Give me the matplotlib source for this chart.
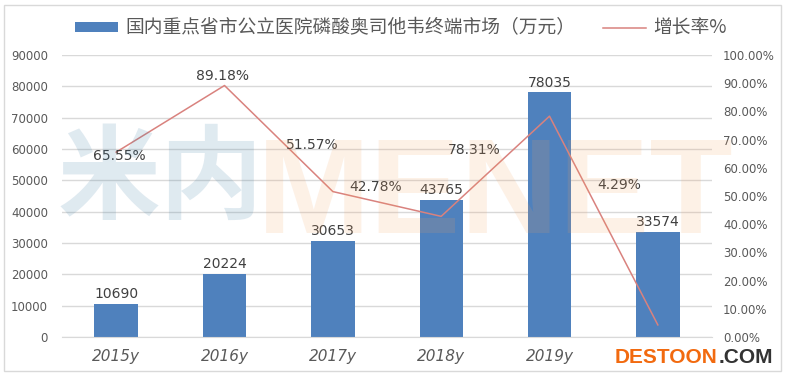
import matplotlib
matplotlib.use('Agg')
import matplotlib.pyplot as plt
from matplotlib.patches import Rectangle
import numpy as np

# ---------------- data ----------------
categories = ['2015y', '2016y', '2017y', '2018y', '2019y', '2020y']
market = [10690, 20224, 30653, 43765, 78035, 33574]
growth = [65.55, 89.18, 51.57, 42.78, 78.31, 4.29]
left_ticks = [0, 10000, 20000, 30000, 40000, 50000, 60000, 70000, 80000, 90000]
right_ticks = [0, 10, 20, 30, 40, 50, 60, 70, 80, 90, 100]
bar_name = '国内重点省市公立医院磷酸奥司他韦终端市场（万元）'
line_name = '增长率%'

# ---------------- layout (pixels) ----------------
W, H = 786, 378
growth_label_offsets_px = [(3, -3.5), (-2, 10), (-21, 47), (-66, 29), (-75, -34), (-39, 140)]
CJK = ['Noto Sans CJK SC', 'DejaVu Sans']
GRAY = '#595959'
LABEL = '#404040'

fig = plt.figure(figsize=(W / 100, H / 100), dpi=100)
fig.patch.set_facecolor('white')
ax = fig.add_axes([62 / W, 1 - 337 / H, 650 / W, 282 / H])

x = np.arange(len(categories))
bars = ax.bar(x, market, width=0.4, color='#4f81bd', zorder=2)
ax.set_xlim(-0.5, len(categories) - 0.5)
ax.set_ylim(0, 90000)
ax.set_yticks(left_ticks)
ax.set_yticklabels([str(t) for t in left_ticks])
ax.grid(axis='y', color='#d9d9d9', lw=1, zorder=0)
ax.set_axisbelow(True)
for s in ['top', 'right', 'left']:
    ax.spines[s].set_visible(False)
ax.spines['bottom'].set_color('#d9d9d9')
ax.tick_params(axis='both', length=0)
ax.tick_params(axis='y', labelsize=8.5, labelcolor=GRAY, pad=10)
ax.set_xticks(x)
ax.set_xticklabels(categories, fontstyle='italic', fontsize=11, color=GRAY)
ax.tick_params(axis='x', pad=9)
ax.bar_label(bars, labels=[str(v) for v in market], padding=2, fontsize=10, color=LABEL)

ax2 = ax.twinx()
ax2.set_ylim(0, 1.0)
line, = ax2.plot(x, np.array(growth) / 100, color='#d9827e', lw=1.1, zorder=3)
ax2.set_yticks(np.array(right_ticks) / 100)
ax2.set_yticklabels([f'{t:.2f}%' for t in right_ticks])
for s in ['top', 'right', 'left', 'bottom']:
    ax2.spines[s].set_visible(False)
ax2.tick_params(axis='y', length=0, labelsize=8.5, labelcolor=GRAY, pad=8)
for xi, g, (dx, dy) in zip(x, growth, growth_label_offsets_px):
    ax2.annotate(f'{g:.2f}%', (xi, g / 100), xytext=(dx * 0.72, dy * 0.72),
                 textcoords='offset points', ha='center', va='center',
                 fontsize=10, color=LABEL)

fig.legend(handles=[bars, line], labels=[bar_name, line_name],
           loc='center left', bbox_to_anchor=(75 / W, 1 - 28 / H), ncol=2,
           frameon=False, prop={'family': CJK, 'size': 13.5}, labelcolor=GRAY,
           handlelength=2.3, handleheight=0.5, handletextpad=0.4,
           columnspacing=1.45, borderpad=0, borderaxespad=0)

# outer chart border
fig.add_artist(Rectangle((4 / W, 7 / H), 777 / W, 366 / H, transform=fig.transFigure,
                         fill=False, ec='#d9d9d9', lw=1))

# watermarks
fig.text(58 / W, 1 - 181 / H, '米内', fontsize=74, fontweight='heavy',
         family='Noto Sans CJK SC', color='#3d7ea6', alpha=0.16, va='center', ha='left')
fig.text(257 / W, 1 - 233 / H, 'MENET', fontsize=98, fontweight='bold',
         family='Liberation Sans', color='#f5a25d', alpha=0.15, va='baseline', ha='left')
fig.text(615 / W, 1 - 363 / H, 'DESTOON', fontsize=15, fontweight='bold',
         family='Liberation Sans', color='#f26a0f', va='baseline', ha='left',
         bbox=dict(fc='white', ec='none', pad=1))
fig.text(719 / W, 1 - 363 / H, '.COM', fontsize=15, fontweight='bold',
         family='Liberation Sans', color='#333333', va='baseline', ha='left')

fig.savefig('out.png', dpi=100)
